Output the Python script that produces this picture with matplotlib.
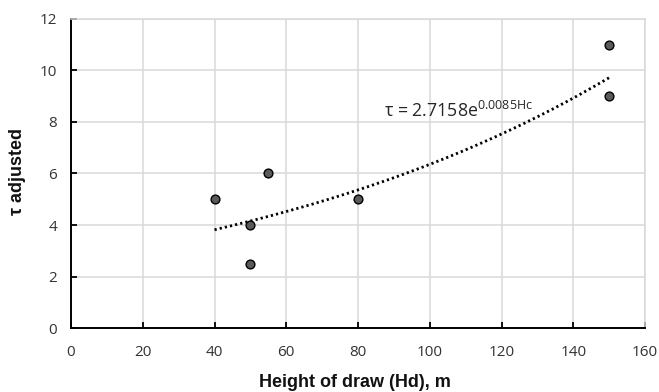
import numpy as np
import matplotlib
matplotlib.use("Agg")
import matplotlib.pyplot as plt

# Data
height_m = [40, 50, 50, 55, 80, 150, 150]
tau_adjusted = [5, 4, 2.5, 6, 5, 11, 9]
# Trendline coefficients as printed on the chart: tau = a * exp(b * H)
trend_a = 2.7158
trend_b = 0.0085
trend_range = [40, 150]
x_ticks = [0, 20, 40, 60, 80, 100, 120, 140, 160]
y_ticks = [0, 2, 4, 6, 8, 10, 12]

plt.rcParams['font.family'] = ['Open Sans', 'DejaVu Sans']

fig = plt.figure(figsize=(6.59, 3.92), dpi=100)
ax = fig.add_axes([0.1077, 0.163, 0.8713, 0.789])

ax.set_xlim(0, 160)
ax.set_ylim(0, 12)
ax.set_xticks(x_ticks)
ax.set_yticks(y_ticks)
ax.grid(True, color='#d9d9d9', linewidth=1.1)
ax.set_axisbelow(True)

for side in ['top', 'right']:
    ax.spines[side].set_color('#d9d9d9')
    ax.spines[side].set_linewidth(1.1)
for side in ['left', 'bottom']:
    ax.spines[side].set_color('black')
    ax.spines[side].set_linewidth(1.4)

ax.tick_params(axis='both', direction='in', length=4, width=1.3, color='black',
               labelsize=11, labelcolor='#333333')
ax.tick_params(axis='x', pad=12)
ax.tick_params(axis='y', pad=10)

xs = np.linspace(trend_range[0], trend_range[1], 200)
ax.plot(xs, trend_a * np.exp(trend_b * xs), color='black', linewidth=2.0,
        linestyle=(0, (0.8, 1.1)), zorder=2)

ax.scatter(height_m, tau_adjusted, s=40, facecolor='#5a5a5a', edgecolor='black',
           linewidth=1.0, zorder=3)

ax.text(87.2, 8.19, r'τ = 2.7158e$^{\mathregular{0.0085Hc}}$', fontsize=12.8,
        color='#262626', ha='left', va='baseline')

fig.text(355 / 659, 1 - 387 / 392, 'Height of draw (Hd), m', fontsize=13,
         fontweight='bold', family=['Liberation Sans', 'DejaVu Sans'],
         ha='center', va='baseline', color='#111111')
fig.text(18 / 659, 1 - 172 / 392, 'τ adjusted', fontsize=13, rotation=90,
         fontweight='bold', family=['Liberation Sans', 'DejaVu Sans'],
         ha='center', va='center', color='#111111')

fig.savefig('out.png', dpi=100)
